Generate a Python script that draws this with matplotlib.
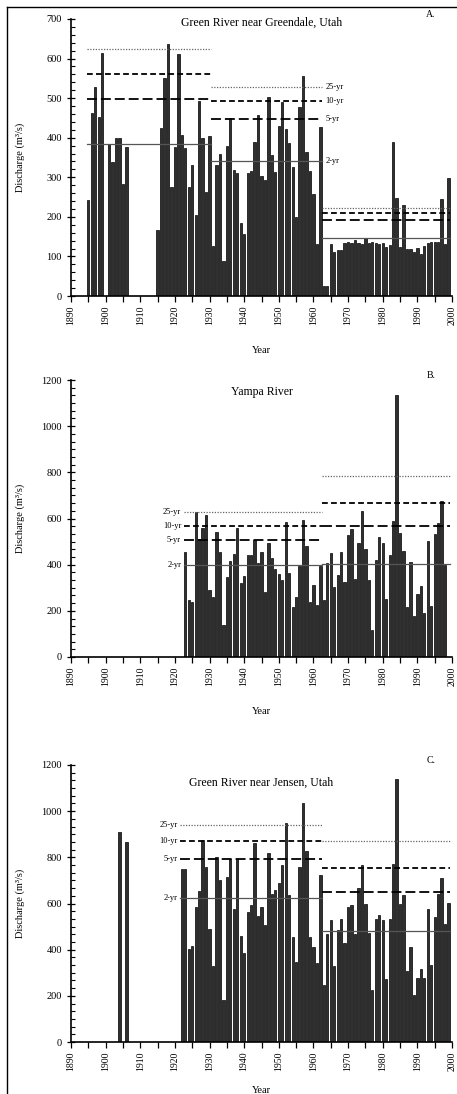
import numpy as np
import matplotlib as mpl
mpl.use('Agg')
import matplotlib.pyplot as plt
from matplotlib.ticker import MultipleLocator, AutoMinorLocator
from matplotlib.lines import Line2D

plt.rcParams['font.family'] = ['Liberation Serif', 'DejaVu Serif']

# A. Green River near Greendale (no record 1900, 1907-1914)
years_a = [1895, 1896, 1897, 1898, 1899, 1901, 1902, 1903, 1904, 1905, 1906] + list(range(1915, 2000))
flow_a = [243, 462, 527, 452, 613, 383, 338, 400, 400, 282, 377,
          167, 425, 550, 636, 275, 377, 611, 406, 373, 275,
          331, 205, 494, 400, 264, 404, 126, 330, 360, 88,
          380, 451, 318, 312, 184, 156, 312, 316, 390, 457,
          303, 293, 504, 356, 314, 430, 489, 421, 387, 325,
          199, 477, 556, 365, 315, 259, 132, 428, 25, 25,
          131, 110, 116, 116, 133, 137, 135, 141, 133, 131,
          147, 135, 137, 135, 131, 135, 123, 129, 390, 247,
          125, 230, 118, 120, 112, 122, 106, 126, 135, 136,
          136, 137, 244, 131, 299]

# B. Yampa River
years_b = list(range(1923, 1999))
flow_b = [455, 245, 238, 630, 510, 560, 615, 290, 262, 540,
          453, 140, 347, 416, 446, 557, 321, 351, 444, 441,
          509, 408, 457, 282, 496, 431, 383, 358, 335, 585,
          366, 217, 260, 395, 593, 480, 239, 314, 224, 396,
          249, 408, 452, 304, 354, 455, 325, 528, 555, 337,
          492, 632, 467, 333, 119, 419, 520, 494, 253, 441,
          588, 1135, 539, 460, 217, 412, 178, 275, 306, 192,
          502, 221, 535, 581, 677, 400]

# C. Green River near Jensen
years_c = [1904, 1906] + list(range(1922, 2000))
flow_c = [911, 867,
          750, 750, 403, 418, 587, 655, 873, 760, 490, 330,
          800, 700, 180, 714, 792, 577, 792, 458, 385, 562,
          594, 864, 546, 586, 506, 820, 640, 660, 690, 766,
          949, 638, 455, 345, 756, 1037, 828, 455, 412, 343,
          723, 249, 466, 528, 330, 484, 535, 429, 585, 593,
          466, 665, 766, 597, 473, 227, 535, 549, 530, 275,
          532, 773, 1138, 600, 636, 308, 412, 202, 278, 318,
          278, 578, 335, 542, 639, 711, 513, 604]

# flood frequency levels: (first yr, last yr, 2-yr, 5-yr, 10-yr, 25-yr)
periods_a = [(1895, 1930, 385, 497, 560, 625),
             (1931, 1962, 340, 447, 492, 529),
             (1963, 1999, 147, 192, 211, 222)]
periods_b = [(1923, 1962, 398, 509, 567, 626),
             (1963, 1999, 402, 568, 669, 784)]
periods_c = [(1922, 1962, 623, 794, 872, 938),
             (1963, 1999, 481, 651, 753, 872)]

rp_labels = ['2-yr', '5-yr', '10-yr', '25-yr']
rp_styles = [dict(ls='-', lw=0.9, color='#555555'),
             dict(ls=(0, (5.5, 2.2)), lw=1.3, color='black'),
             dict(ls=(0, (3.2, 1.8)), lw=1.3, color='black'),
             dict(ls=(0, (1, 1.2)), lw=0.9, color='#666666')]

titles = ['Green River near Greendale, Utah', 'Yampa River', 'Green River near Jensen, Utah']
letters = ['A.', 'B.', 'C.']

fig = plt.figure(figsize=(4.57, 10.94), dpi=100)
left, width, height = 71/457, 381/457, 277/1094
bottoms = [1 - 296/1094, 1 - 657/1094, 1 - 1042/1094]

data = [(years_a, flow_a, periods_a, 700, 100, 5),
        (years_b, flow_b, periods_b, 1200, 200, 6),
        (years_c, flow_c, periods_c, 1200, 200, 6)]

for i, (yrs, q, periods, ymax, ystep, nminor) in enumerate(data):
    ax = fig.add_axes([left, bottoms[i], width, height])
    ax.bar(yrs, q, width=0.66, color='#303030', edgecolor='black', linewidth=0.5)

    for p in periods:
        for k in range(4):
            ax.plot([p[0] - 0.5, p[1] + 0.4], [p[2 + k]] * 2, **rp_styles[k])

    # return period labels
    if i == 0:
        p = periods[1]
        for k in range(4):
            ax.text(1963.5, p[2 + k], rp_labels[k], fontsize=6, va='center', ha='left')
    else:
        p = periods[0]
        for k in range(4):
            ax.text(p[0] - 1.2, p[2 + k], rp_labels[k], fontsize=6, va='center', ha='right')

    ax.set_xlim(1890, 2000)
    ax.set_ylim(0, ymax)
    ax.xaxis.set_major_locator(MultipleLocator(10))
    ax.xaxis.set_minor_locator(MultipleLocator(5))
    ax.yaxis.set_major_locator(MultipleLocator(ystep))
    ax.yaxis.set_minor_locator(AutoMinorLocator(nminor))
    ax.tick_params(axis='x', which='both', direction='out', length=4, width=0.9)
    ax.tick_params(axis='x', which='major', labelsize=7, labelrotation=90, pad=3)
    ax.tick_params(axis='y', which='major', direction='inout', length=6, width=0.9, labelsize=7.5)
    ax.tick_params(axis='y', which='minor', direction='in', length=3, width=0.8)
    for s in ['top', 'right']:
        ax.spines[s].set_visible(False)
    for s in ['left', 'bottom']:
        ax.spines[s].set_linewidth(1.2)

    ax.set_ylabel('Discharge (m³/s)', fontsize=7.5)
    ax.yaxis.set_label_coords(-0.12, 0.5)
    ax.set_xlabel('Year', fontsize=7.5)
    ax.xaxis.set_label_coords(0.5, [-0.18, -0.18, -0.16][i])

    ty = [0.985, 0.955, 0.935][i]
    ax.text(0.5, ty, titles[i], transform=ax.transAxes, fontsize=8.5,
            ha='center', va='center')
    ax.text(0.945, 1.015, letters[i], transform=ax.transAxes, fontsize=7,
            ha='center', va='center', clip_on=False)

# border around the page
fig.add_artist(Line2D([7/457, 7/457], [0, 1 - 7/1094], color='black', lw=1.0))
fig.add_artist(Line2D([7/457, 1], [1 - 7/1094, 1 - 7/1094], color='black', lw=1.0))

fig.savefig('out.png', dpi=100)
